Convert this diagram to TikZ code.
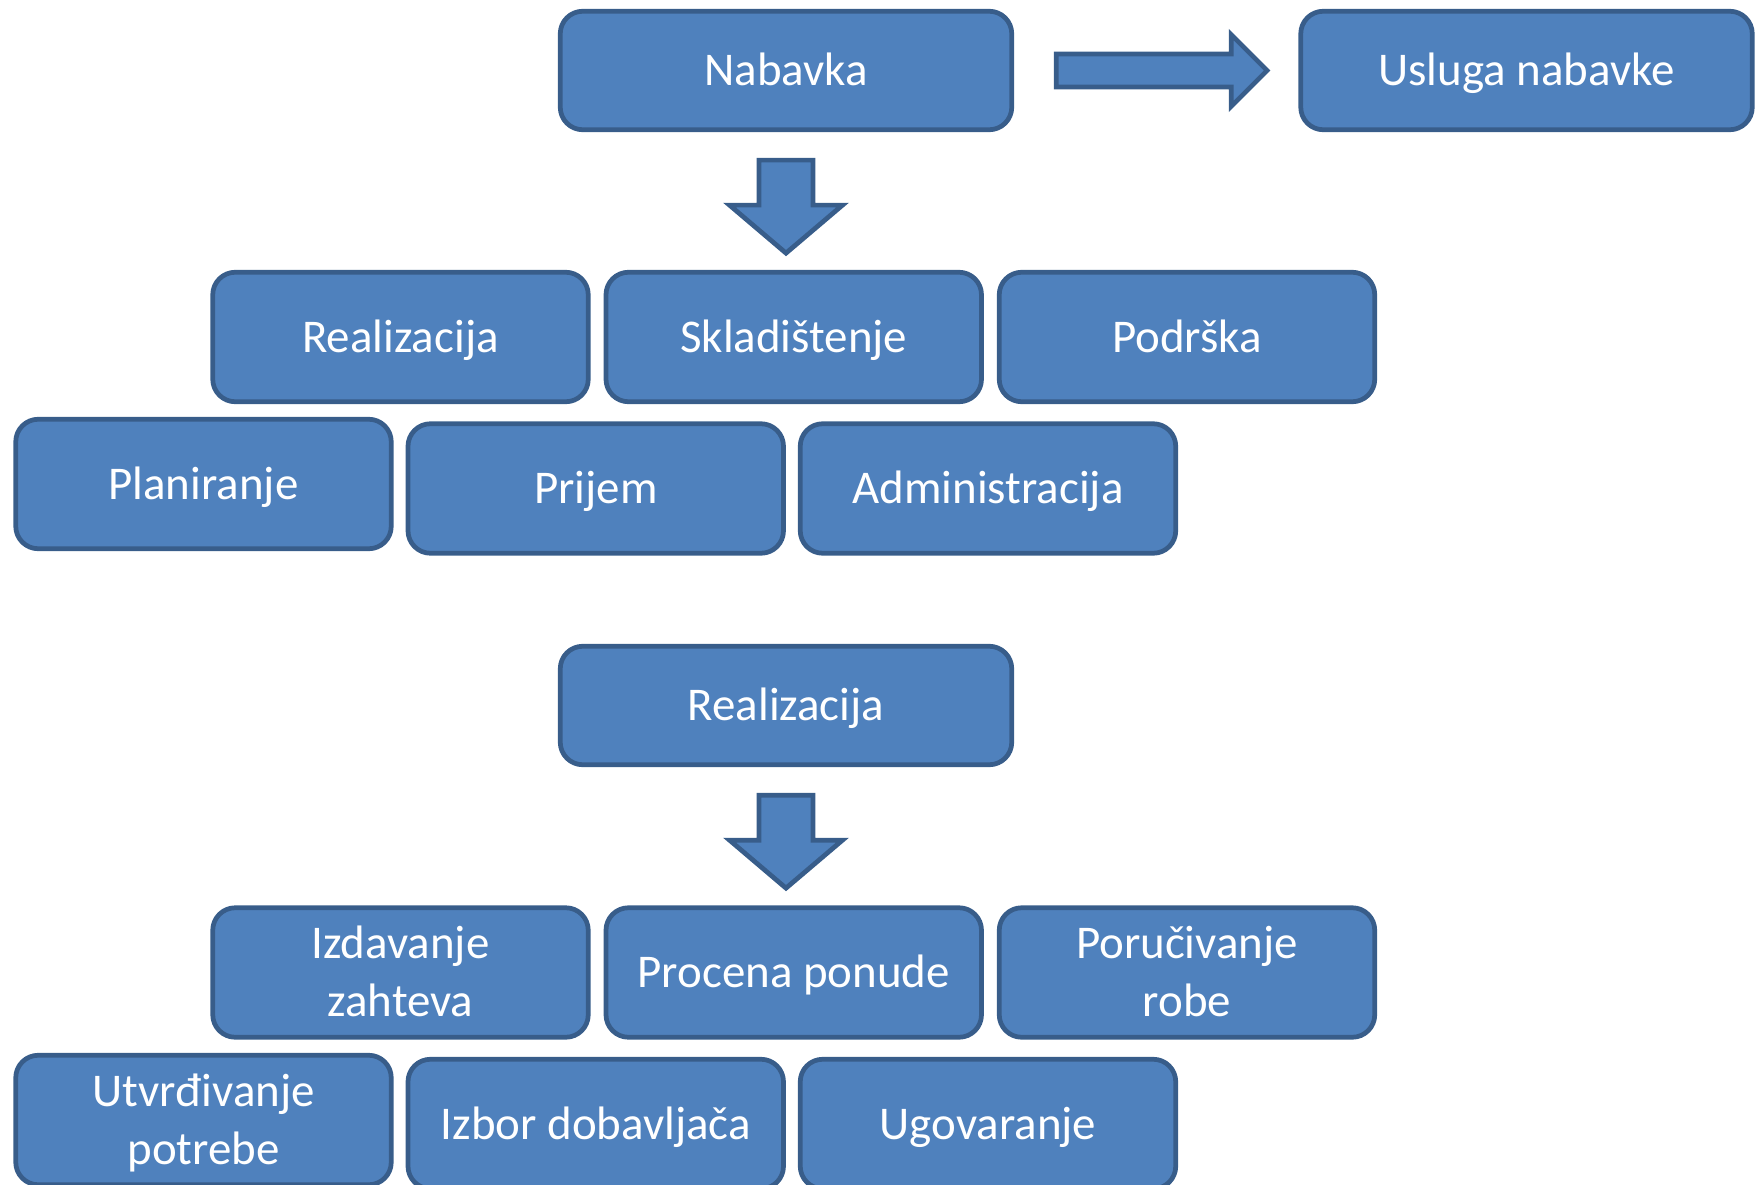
\documentclass[tikz,border=0pt]{standalone}
\usepackage{fontspec}
\setmainfont{Carlito}
\usetikzlibrary{positioning,calc}
\definecolor{BoxBlue}{RGB}{79,129,189}
\definecolor{EdgeBlue}{RGB}{56,93,138}
\newcommand{\boxtext}[1]{\begin{tabular}{@{}c@{}}\rule{0pt}{27pt}#1\end{tabular}}
\tikzset{
  bbox/.style={draw=EdgeBlue,fill=BoxBlue,rounded corners=0.45cm,
               minimum width=7.51cm,minimum height=2.59cm,inner sep=0pt,
               font=\fontsize{26.7}{33}\selectfont,text=white,line width=2.7pt},
  wbox/.style={bbox,minimum width=9.03cm,minimum height=2.37cm},
  barrow/.style={draw=EdgeBlue,fill=BoxBlue,line width=2.7pt,line join=miter},
}
\begin{document}
\begin{tikzpicture}
        \useasboundingbox (0,0) rectangle (35.16,-23.7);
        % top part
        \node[wbox] (nab) at (15.72,-1.41) {\boxtext{Nabavka}};
        \node[wbox] (usl) at (30.53,-1.41) {\boxtext{Usluga nabavke}};
        \node[bbox] (real) at (8.01,-6.74) {\boxtext{Realizacija}};
        \node[bbox,right=0.26cm of real] (skl) {\boxtext{Skladištenje}};
        \node[bbox,right=0.26cm of skl] (pod) {\boxtext{Podrška}};
        \node[bbox] (plan) at (4.07,-9.68) {\boxtext{Planiranje}};
        \node[bbox,right=0.24cm of plan,yshift=-0.09cm] (prij) {\boxtext{Prijem}};
        \node[bbox,right=0.24cm of prij] (adm) {\boxtext{Administracija}};
        \draw[barrow,shift={(nab.east)}] (0.84,0.33) -- (4.34,0.33) -- (4.34,0.72)
            -- (5.06,0) -- (4.34,-0.72) -- (4.34,-0.33) -- (0.84,-0.33) -- cycle;
        \draw[barrow,shift={(nab.south)}] (-0.54,-0.56) -- (0.54,-0.56) -- (0.54,-1.46)
            -- (1.13,-1.46) -- (0,-2.42) -- (-1.13,-1.46) -- (-0.54,-1.46) -- cycle;
        % bottom part
        \node[wbox] (real2) at (15.72,-14.11) {\boxtext{Realizacija}};
        \node[bbox] (izd) at (8.01,-19.45) {\boxtext{Izdavanje\\zahteva}};
        \node[bbox,right=0.26cm of izd] (proc) {\boxtext{Procena ponude}};
        \node[bbox,right=0.26cm of proc] (poru) {\boxtext{Poručivanje\\robe}};
        \node[bbox] (utv) at (4.07,-22.4) {\boxtext{Utvrđivanje\\potrebe}};
        \node[bbox,right=0.24cm of utv,yshift=-0.08cm] (izb) {\boxtext{Izbor dobavljača}};
        \node[bbox,right=0.24cm of izb] (ugov) {\boxtext{Ugovaranje}};
        \draw[barrow,shift={(real2.south)}] (-0.54,-0.56) -- (0.54,-0.56) -- (0.54,-1.46)
            -- (1.13,-1.46) -- (0,-2.42) -- (-1.13,-1.46) -- (-0.54,-1.46) -- cycle;
      \end{tikzpicture}
\end{document}
